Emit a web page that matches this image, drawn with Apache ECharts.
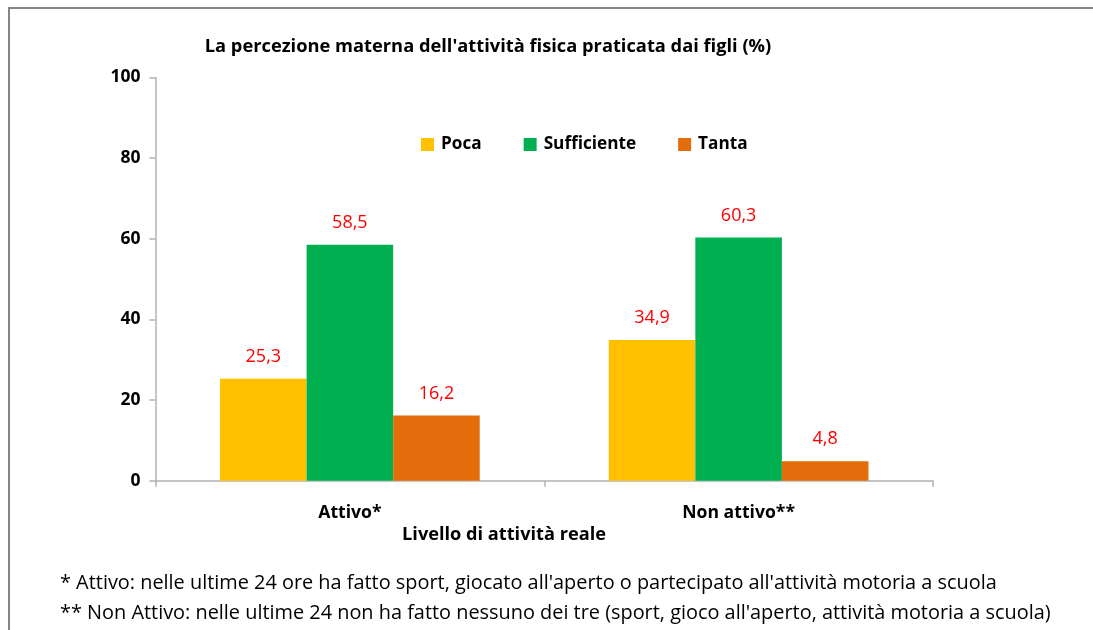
<!DOCTYPE html>
<html><head><meta charset="utf-8">
<script src="https://cdn.jsdelivr.net/npm/echarts@6/dist/echarts.min.js"></script>
<style>html,body{margin:0;padding:0;background:#fff}#c{width:1093px;height:630px}</style>
</head><body><div id="c"></div>
<script>
const categories = ['Attivo*', 'Non attivo**'];
const seriesNames = ['Poca', 'Sufficiente', 'Tanta'];
const poca = [25.3, 34.9];
const sufficiente = [58.5, 60.3];
const tanta = [16.2, 4.8];
const yTicks = [0, 20, 40, 60, 80, 100];
const colors = ['#FFC000', '#00B050', '#E46C0A'];
const FONT = '"Open Sans", sans-serif';

const chart = echarts.init(document.getElementById('c'), null, {renderer: 'canvas'});
const labelCfg = {
  show: true, position: 'top', distance: 13, color: '#FF0000',
  fontFamily: FONT, fontSize: 18,
  formatter: p => String(p.value).replace('.', ',')
};
chart.setOption({
  animation: false,
  textStyle: {fontFamily: FONT},
  grid: {left: 155.5, right: 160, top: 77.5, bottom: 149.3, containLabel: false},
  title: {
    text: "La percezione materna dell'attività fisica praticata dai figli (%)",
    left: 483, top: 33, textAlign: 'center',
    textStyle: {fontFamily: FONT, fontSize: 18.3, fontWeight: 'bold', color: '#000'}
  },
  legend: {
    data: seriesNames, top: 131, left: 416, itemWidth: 13, itemHeight: 13, itemGap: 42,
    icon: 'rect',
    textStyle: {fontFamily: FONT, fontSize: 17.2, fontWeight: 'bold', color: '#000', padding: [0,0,0,2]}
  },
  xAxis: {
    type: 'category', data: categories,
    axisLine: {lineStyle: {color: '#B3B3B3', width: 1.5}},
    axisTick: {show: true, length: 6, lineStyle: {color: '#B3B3B3', width: 1.5}},
    axisLabel: {fontFamily: FONT, fontSize: 17.6, fontWeight: 'bold', color: '#000', margin: 23}
  },
  yAxis: {
    type: 'value', min: 0, max: 100, interval: 20,
    splitLine: {show: false},
    axisLine: {show: true, lineStyle: {color: '#B3B3B3', width: 1.5}},
    axisTick: {show: true, length: 6, lineStyle: {color: '#B3B3B3', width: 1.5}},
    axisLabel: {fontFamily: FONT, fontSize: 17.5, fontWeight: 'bold', color: '#000', margin: 15,
      formatter: v => yTicks.includes(v) ? String(v) : ''}
  },
  series: [
    {name: seriesNames[0], type: 'bar', data: poca, itemStyle: {color: colors[0]}, barGap: '0%', barCategoryGap: '33.2%', label: labelCfg},
    {name: seriesNames[1], type: 'bar', data: sufficiente, itemStyle: {color: colors[1]}, barGap: '0%', barCategoryGap: '33.2%', label: labelCfg},
    {name: seriesNames[2], type: 'bar', data: tanta, itemStyle: {color: colors[2]}, barGap: '0%', barCategoryGap: '33.2%', label: labelCfg}
  ],
  graphic: [
    {type: 'rect', shape: {x: 9, y: 8, width: 1200, height: 800}, silent: true,
      style: {fill: null, stroke: '#858585', lineWidth: 2}},
    {type: 'text', x: 504, y: 535, style: {text: 'Livello di attività reale', align: 'center', verticalAlign: 'middle',
      font: 'bold 18.2px ' + FONT, fill: '#000'}},
    {type: 'text', x: 60, y: 583, style: {text: "* Attivo: nelle ultime 24 ore ha fatto sport, giocato all'aperto o partecipato all'attività motoria a scuola",
      verticalAlign: 'middle', font: '19.9px ' + FONT, fill: '#000'}},
    {type: 'text', x: 60, y: 613, style: {text: "** Non Attivo: nelle ultime 24 non ha fatto nessuno dei tre (sport, gioco all'aperto, attività motoria a scuola)",
      verticalAlign: 'middle', font: '19.9px ' + FONT, fill: '#000'}}
  ]
});
</script></body></html>
